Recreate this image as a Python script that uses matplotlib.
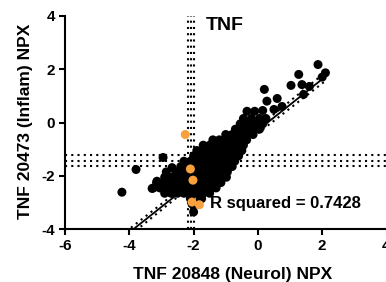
# %%
# TNF scatter: Neurol vs Inflam NPX with linear fit
import matplotlib.pyplot as plt
import numpy as np

# %%
# Data
# dense cloud (black), one row per y level
blob_x = [-2.0,
          -2.05, -1.9,
          -2.1, -1.8, -1.75,
          -2.9, -2.7, -2.5, -2.3, -2.1, -1.9, -1.7, -1.5,
          -3.25, -3.05, -2.85, -2.65, -2.45, -2.25, -2.05, -1.85, -1.65, -1.45, -1.3,
          -3.15, -2.95, -2.75, -2.55, -2.35, -2.15, -1.95, -1.75, -1.55, -1.35, -1.15,
          -2.9, -2.7, -2.5, -2.3, -2.1, -1.9, -1.7, -1.5, -1.3, -1.1, -0.98,
          -2.85, -2.55, -2.35, -2.15, -1.95, -1.75, -1.55, -1.35, -1.15, -0.95,
          -2.4, -2.2, -2.0, -1.8, -1.6, -1.4, -1.2, -1.0, -0.8,
          -2.3, -2.1, -1.9, -1.7, -1.5, -1.3, -1.1, -0.85, -0.72,
          -2.0, -1.8, -1.6, -1.4, -1.2, -1.0, -0.8, -0.6,
          -1.9, -1.7, -1.5, -1.3, -1.1, -0.9, -0.7, -0.5,
          -1.7, -1.5, -1.3, -1.1, -0.9, -0.7, -0.45,
          -1.4, -1.2, -1.0, -0.8, -0.6, -0.35,
          -1.0, -0.8, -0.6, -0.4, -0.15,
          -0.7, -0.45, -0.2, 0.05,
          -0.55, -0.3, -0.05, 0.15,
          -0.45, -0.2, 0.05, 0.25,
          -3.79, -4.23, -2.95, -2.67, -3.29, -3.14]
blob_y = [-3.35,
          -3.05, -3.05,
          -2.85, -2.85, -2.85,
          -2.65, -2.65, -2.65, -2.65, -2.65, -2.65, -2.65, -2.65,
          -2.45, -2.45, -2.45, -2.45, -2.45, -2.45, -2.45, -2.45, -2.45, -2.45, -2.45,
          -2.25, -2.25, -2.25, -2.25, -2.25, -2.25, -2.25, -2.25, -2.25, -2.25, -2.25,
          -2.05, -2.05, -2.05, -2.05, -2.05, -2.05, -2.05, -2.05, -2.05, -2.05, -2.05,
          -1.85, -1.85, -1.85, -1.85, -1.85, -1.85, -1.85, -1.85, -1.85, -1.85,
          -1.65, -1.65, -1.65, -1.65, -1.65, -1.65, -1.65, -1.65, -1.65,
          -1.45, -1.45, -1.45, -1.45, -1.45, -1.45, -1.45, -1.45, -1.45,
          -1.25, -1.25, -1.25, -1.25, -1.25, -1.25, -1.25, -1.25,
          -1.05, -1.05, -1.05, -1.05, -1.05, -1.05, -1.05, -1.05,
          -0.85, -0.85, -0.85, -0.85, -0.85, -0.85, -0.85,
          -0.65, -0.65, -0.65, -0.65, -0.65, -0.65,
          -0.45, -0.45, -0.45, -0.45, -0.45,
          -0.25, -0.25, -0.25, -0.25,
          -0.05, -0.05, -0.05, -0.05,
          0.15, 0.15, 0.15, 0.15,
          -1.76, -2.61, -1.31, -1.69, -2.47, -2.2]

# upper tail along the fit
tail_x = [-0.34, -0.1, 0.15, 0.5, 0.75, 0.28, 0.2, 0.6, 1.03, 1.37, 1.42, 1.27, 1.6, 1.87, 2.1, 2.0]
tail_y = [0.42, 0.42, 0.45, 0.49, 0.6, 0.8, 1.24, 0.9, 1.39, 1.42, 1.05, 1.8, 1.35, 2.17, 1.86, 1.7]

# highlighted samples (orange)
hl_x = [-2.26, -2.1, -2.02, -2.05, -1.82]
hl_y = [-0.45, -1.74, -2.16, -2.98, -3.08]

# fit and reference lines
fit_slope = 0.957
fit_icpt = -0.29
fit_xrange = [-3.95, 2.15]
ci_a, ci_b, ci_xm = 0.1, 0.035, -1.6
vlines_x = [-2.17, -2.08, -2.0]
hlines_y = [-1.2, -1.45, -1.64]
r2 = 0.7428

# %%
plt.rcParams['font.family'] = ['Liberation Sans', 'DejaVu Sans']
plt.rcParams['font.weight'] = 'bold'
plt.rcParams['axes.unicode_minus'] = False

fig = plt.figure(figsize=(3.86, 2.82), dpi=100)
ax = fig.add_axes([65 / 386, 1 - 229.3 / 282, 321.5 / 386, 213.6 / 282])

dots = (0, (1, 2))
for xv in vlines_x:
    ax.axvline(xv, color='black', lw=1.5, ls=dots, zorder=1)
for yv in hlines_y:
    ax.axhline(yv, color='black', lw=1.5, ls=dots, zorder=1)

xs = np.linspace(fit_xrange[0], fit_xrange[1], 100)
ys = fit_slope * xs + fit_icpt
hw = np.sqrt(ci_a ** 2 + ci_b ** 2 * (xs - ci_xm) ** 2)
ax.plot(xs, ys, color='black', lw=1.3, zorder=2)
ax.plot(xs, ys + hw, color='black', lw=1.5, ls=dots, zorder=2)
ax.plot(xs, ys - hw, color='black', lw=1.5, ls=dots, zorder=2)

ax.text(-1.48, -3.22, 'R squared = %.4f' % r2, fontsize=12, fontweight='bold', zorder=2)
ax.text(-1.61, 3.46, 'TNF', fontsize=14, fontweight='bold')

ax.scatter(blob_x + tail_x, blob_y + tail_y, s=42, color='black', edgecolors='none', zorder=3)
ax.scatter(hl_x, hl_y, s=42, color='#F7A03C', edgecolors='none', zorder=4)

ax.set_xlim(-6, 4)
ax.set_ylim(-4, 4)
ax.set_xticks([-6, -4, -2, 0, 2, 4])
ax.set_yticks([-4, -2, 0, 2, 4])
for s in ['top', 'right']:
    ax.spines[s].set_visible(False)
for s in ['left', 'bottom']:
    ax.spines[s].set_linewidth(1.5)
ax.tick_params(width=1.5, length=4, labelsize=11, pad=3)
for lab in ax.get_xticklabels() + ax.get_yticklabels():
    lab.set_fontweight('bold')

ax.set_xlabel('TNF 20848 (Neurol) NPX', fontsize=12.5, fontweight='bold')
ax.set_ylabel('TNF 20473 (Inflam) NPX', fontsize=12.5, fontweight='bold')
ax.xaxis.set_label_coords(0.521, -0.178)
ax.yaxis.set_label_coords(-0.10, 0.505)

fig.savefig('out.png', dpi=100)
